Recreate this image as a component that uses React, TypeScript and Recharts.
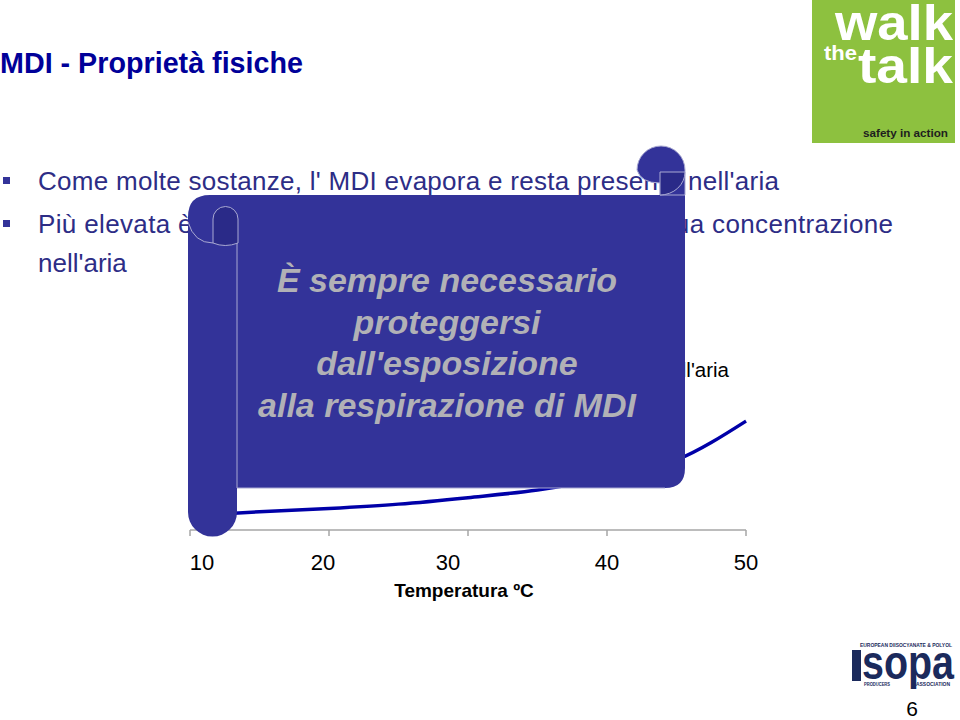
import React from 'react'
import { LineChart, Line, XAxis, YAxis } from 'recharts'

// MDI concentration in air vs temperature (arbitrary units)
const temperatures = [10, 15, 20, 25, 30, 35, 40, 45, 50]
const airConcentration = [1.08, 1.38, 1.63, 1.96, 2.45, 3.03, 3.95, 5.3, 8.25]
const tempTicks = [10, 20, 30, 40, 50]

const bulletLines = [
  "Come molte sostanze,  l' MDI evapora e resta presente nell'aria",
  "Più elevata è la temperatura dell'MDI, maggiore è la sua concentrazione",
  "nell'aria",
]
const scrollLines = [
  'È sempre necessario',
  'proteggersi',
  "dall'esposizione",
  'alla respirazione di MDI',
]

const FONT = '"Liberation Sans", Arial, Helvetica, sans-serif'
const FRAME = '#a6a6a6'
const SCROLL = '#333399'
const EDGE = '#a9a9d2'

// the slide's tick labels sit a little off their tick marks
const labelNudge: Record<number, number> = { 10: 12, 20: -6, 30: -20 }

const data = temperatures.map((t, i) => ({ t, c: airConcentration[i] }))

function TempTick(props: any) {
  const { x, y, payload } = props
  const dx = labelNudge[payload.value] ?? 0
  return (
    <text x={x + dx} y={y} dy={15.6} textAnchor="middle" fill="#000" fontSize={22} fontFamily={FONT}>
      {payload.value}
    </text>
  )
}

function Slide() {
  return (
    <svg
      width={960}
      height={720}
      style={{ position: 'absolute', left: 0, top: 0, pointerEvents: 'none' }}
      fontFamily={FONT}
    >
      {/* title */}
      <text x={0} y={73} fontSize={29} fontWeight="bold" fill="#000099" textLength={303} lengthAdjust="spacingAndGlyphs">
        MDI - Proprietà fisiche
      </text>

      {/* bullets */}
      <rect x={3} y={177} width={7} height={7} fill={SCROLL} />
      <rect x={3} y={220} width={7} height={7} fill={SCROLL} />
      <text x={38} y={190} fontSize={26} fill="#2d2d86" textLength={741} lengthAdjust="spacing">{bulletLines[0]}</text>
      <text x={38} y={233} fontSize={26} fill="#2d2d86" textLength={855} lengthAdjust="spacing">{bulletLines[1]}</text>
      <text x={38} y={272} fontSize={26} fill="#2d2d86">{bulletLines[2]}</text>

      {/* y axis caption, mostly hidden by the scroll */}
      <text x={729} y={377} fontSize={20.5} fill="#000" textAnchor="end">Concentrazione di MDI nell'aria</text>

      {/* walk the talk logo */}
      <rect x={812} y={0} width={143} height={143} fill="#8dc13f" />
      <text x={835} y={40} fontSize={50} fontWeight="bold" fill="#fff" textLength={118} lengthAdjust="spacingAndGlyphs">walk</text>
      <text x={824} y={60} fontSize={21} fontWeight="bold" fill="#fff" textLength={33} lengthAdjust="spacingAndGlyphs">the</text>
      <text x={858} y={83} fontSize={50} fontWeight="bold" fill="#fff" textLength={95} lengthAdjust="spacingAndGlyphs">talk</text>
      <text x={863} y={137} fontSize={11.5} fontWeight="bold" fill="#1e1e1e" textLength={85} lengthAdjust="spacingAndGlyphs">safety in action</text>

      {/* ISOPA logo */}
      <text x={860} y={647} fontSize={5.5} fontWeight="bold" fill="#1b2a5c" textLength={92} lengthAdjust="spacingAndGlyphs">EUROPEAN DIISOCYANATE &amp; POLYOL</text>
      <rect x={852} y={650} width={9} height={31} fill="#1b2a5c" />
      <text x={862} y={679} fontSize={48} fontWeight="bold" fill="#1b2a5c" textLength={92} lengthAdjust="spacingAndGlyphs">sopa</text>
      <text x={864} y={686} fontSize={4.5} fontWeight="bold" fill="#1b2a5c" textLength={26} lengthAdjust="spacingAndGlyphs">PRODUCERS</text>
      <text x={916} y={686} fontSize={4.5} fontWeight="bold" fill="#1b2a5c" textLength={34} lengthAdjust="spacingAndGlyphs">ASSOCIATION</text>

      {/* page number */}
      <text x={912} y={716} fontSize={21} fill="#000" textAnchor="middle">6</text>

      {/* scroll */}
      <path
        d="M188 217 Q188 195 210 195 L685 195 L685 468 Q685 488 665 488 L237 488 L237 512 A24.5 24.5 0 0 1 188 512 Z"
        fill={SCROLL}
      />
      <path d="M237 243 L237 488 L665 488" fill="none" stroke={EDGE} strokeWidth={1} />
      <path d="M213 243 L213 219 A12.5 12.5 0 0 1 238 219 L238 243 Q225 248 213 243 Z" fill="#2a2a88" stroke={EDGE} strokeWidth={1} />
      <path d="M188 222 Q194 243 213 243" fill="none" stroke={EDGE} strokeWidth={1} />
      <path d="M637 170 A24 24 0 0 1 685 170 L685 195 L660 195 L660 183 Q641 183 637 170 Z" fill={SCROLL} stroke={EDGE} strokeWidth={1} />
      <path d="M660 195 L660 172 L685 172 A25 23 0 0 1 660 195 Z" fill="#2a2a88" stroke={EDGE} strokeWidth={1} />
      {scrollLines.map((line, i) => (
        <text
          key={line}
          x={447}
          y={292 + i * 41.5}
          fontSize={34}
          fontWeight="bold"
          fontStyle="italic"
          fill="#b1b1b6"
          textAnchor="middle"
        >
          {line}
        </text>
      ))}
    </svg>
  )
}

export default function App() {
  return (
    <div style={{ position: 'absolute', left: 0, top: 0, width: 960, height: 720, background: '#fff', overflow: 'hidden' }}>
      <div style={{ position: 'absolute', left: 0, top: 0 }}>
        <LineChart width={960} height={720} data={data} margin={{ top: 398, right: 214, bottom: 120, left: 190 }}>
          <XAxis
            xAxisId="bottom"
            dataKey="t"
            type="number"
            domain={[10, 50]}
            ticks={tempTicks}
            height={70}
            tickSize={6}
            tickMargin={18}
            stroke={FRAME}
            strokeWidth={1.5}
            tick={<TempTick />}
            label={{
              value: 'Temperatura ºC',
              position: 'insideBottom',
              offset: 3,
              dx: -4,
              fill: '#000',
              fontSize: 19,
              fontWeight: 'bold',
              fontFamily: FONT,
            }}
          />
          <XAxis
            xAxisId="top"
            dataKey="t"
            type="number"
            domain={[10, 50]}
            orientation="top"
            height={0}
            tick={false}
            tickLine={false}
            stroke={FRAME}
            strokeWidth={1.5}
          />
          <YAxis yAxisId="left" domain={[0, 10]} hide />
          <YAxis
            yAxisId="right"
            orientation="right"
            domain={[0, 10]}
            width={0}
            tick={false}
            tickLine={false}
            stroke={FRAME}
            strokeWidth={1.5}
          />
          <Line
            xAxisId="bottom"
            yAxisId="left"
            type="monotone"
            dataKey="c"
            stroke="#0000a8"
            strokeWidth={3.5}
            dot={false}
            isAnimationActive={false}
          />
        </LineChart>
      </div>
      <Slide />
    </div>
  )
}
